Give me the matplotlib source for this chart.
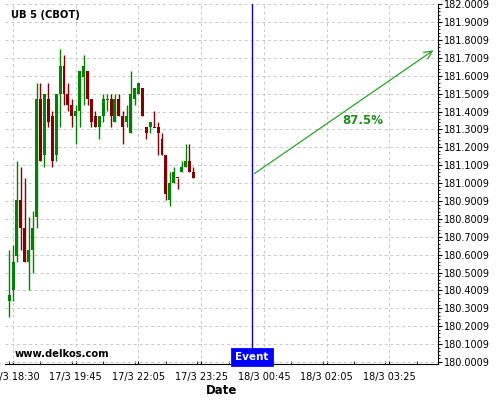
import numpy as np
import matplotlib
matplotlib.use("Agg")
import matplotlib.pyplot as plt
from matplotlib.ticker import MultipleLocator, FormatStrFormatter
import matplotlib.transforms as mtransforms

# 5-minute candles, prices in 1/32nds
opens = [180.34375, 180.40625, 180.59375, 180.90625, 180.75, 180.5625, 180.625, 180.8125,
         181.46875, 181.15625, 181.46875, 181.375, 181.15625, 181.5, 181.65625, 181.5,
         181.4375, 181.375, 181.40625, 181.59375, 181.625, 181.46875, 181.375, 181.3125,
         181.375, 181.46875, 181.46875, 181.34375, 181.46875, 181.375, 181.34375, 181.28125,
         181.46875, 181.5, 181.53125, 181.3125, 181.3125, 181.3125, 181.3125, 181.25,
         181.15625, 180.90625, 181.0, 181.03125, 181.0625, 181.09375, 181.125, 181.0625]
closes = [180.375, 180.5625, 180.90625, 180.75, 180.5625, 180.625, 180.75, 181.46875,
          181.125, 181.5, 181.34375, 181.125, 181.5, 181.65625, 181.5, 181.4375,
          181.375, 181.40625, 181.625, 181.65625, 181.46875, 181.34375, 181.3125, 181.375,
          181.46875, 181.46875, 181.375, 181.46875, 181.375, 181.3125, 181.375, 181.5,
          181.53125, 181.5625, 181.375, 181.28125, 181.34375, 181.3125, 181.28125, 181.15625,
          180.9375, 181.0, 181.0625, 181.03125, 181.09375, 181.125, 181.0625, 181.03125]
highs = [180.625, 180.65625, 181.125, 181.09375, 181.03125, 180.8125, 180.84375, 181.5625,
         181.5625, 181.5, 181.5625, 181.40625, 181.5, 181.75, 181.71875, 181.5625,
         181.46875, 181.4375, 181.625, 181.71875, 181.625, 181.46875, 181.40625, 181.375,
         181.5, 181.5, 181.5, 181.5, 181.5, 181.40625, 181.4375, 181.625,
         181.53125, 181.5625, 181.53125, 181.3125, 181.34375, 181.40625, 181.34375, 181.28125,
         181.15625, 181.0625, 181.09375, 181.03125, 181.125, 181.21875, 181.21875, 181.09375]
lows = [180.25, 180.34375, 180.5625, 180.625, 180.5625, 180.40625, 180.5, 180.75,
        181.125, 181.09375, 181.3125, 181.09375, 181.125, 181.3125, 181.4375, 181.40625,
        181.3125, 181.21875, 181.3125, 181.4375, 181.4375, 181.3125, 181.3125, 181.25,
        181.34375, 181.40625, 181.3125, 181.34375, 181.375, 181.21875, 181.3125, 181.28125,
        181.4375, 181.5, 181.375, 181.25, 181.28125, 181.3125, 181.15625, 181.15625,
        180.90625, 180.875, 181.0, 180.96875, 181.0625, 181.09375, 181.0625, 181.03125]
# doji candles that were drawn green
green_doji = [25]

tick_pos = [1, 17, 33, 49, 65, 81, 97]
tick_labels = ["17/3 18:30", "17/3 19:45", "17/3 22:05", "17/3 23:25",
               "18/3 00:45", "18/3 02:05", "18/3 03:25"]

event_x = 62
arrow_start = (62, 181.0456)
arrow_end = (108.8, 181.752)
prob_label = "87.5%"

fig = plt.figure(figsize=(5, 4), dpi=100)
ax = fig.add_axes([0.01, 0.09, 0.866, 0.90])

green = "#008000"
red = "#800000"
idx = np.arange(len(opens))
for i in idx:
    o, c, h, l = opens[i], closes[i], highs[i], lows[i]
    up = c > o or (c == o and i in green_doji)
    col = green if up else red
    ax.vlines(i, l, h, color=col, lw=1.0, zorder=3)
    bottom = min(o, c)
    height = max(abs(c - o), 0.006)
    if c == o:
        bottom -= 0.003
    ax.bar(i, height, bottom=bottom, width=0.75, color=col, edgecolor=col,
           lw=0, zorder=4)

ax.set_xlim(-1.05, 109.4)
ax.set_ylim(179.99, 182.002)

ax.set_xticks(tick_pos)
ax.set_xticklabels(tick_labels, fontsize=7)
ax.xaxis.set_minor_locator(MultipleLocator(8))
ax.tick_params(axis="x", which="both", direction="in", length=2, pad=6)

ax.yaxis.tick_right()
ax.yaxis.set_major_locator(MultipleLocator(0.1, offset=0.0009))
ax.yaxis.set_minor_locator(MultipleLocator(0.02, offset=0.0009))
ax.yaxis.set_major_formatter(FormatStrFormatter("%.4f"))
ax.tick_params(axis="y", which="major", labelsize=7, length=3, pad=1)
ax.tick_params(axis="y", which="minor", length=1.5)

ax.grid(True, which="major", color="#c8c8c8", linestyle=(0, (3, 3)), lw=0.7)
ax.set_axisbelow(True)

for s in ["top", "left"]:
    ax.spines[s].set_visible(False)

ax.set_xlabel("Date", fontsize=8.5, fontweight="bold", labelpad=1)

# event marker
ax.axvline(event_x, color="#0000cc", lw=1.0, zorder=2)
trans = mtransforms.blended_transform_factory(ax.transData, ax.transAxes)
ax.text(event_x, 0.006, "Event", transform=trans, ha="center", va="bottom",
        fontsize=7.5, fontweight="bold", color="white", zorder=6,
        bbox=dict(boxstyle="square,pad=0.3", fc="#0000ff", ec="#0000ff", lw=2))

ax.annotate("", xy=arrow_end, xytext=arrow_start,
            arrowprops=dict(arrowstyle="->", color="#2ca02c", lw=0.9,
                            mutation_scale=14))
ax.text(90.3, 181.353, prob_label, color="#228B22", fontsize=8.5,
        fontweight="bold", ha="center", va="center")

ax.text(0.013, 0.969, "UB 5 (CBOT)", transform=ax.transAxes, fontsize=7.2,
        fontweight="bold", va="center", ha="left")
ax.text(0.023, 0.029, "www.delkos.com", transform=ax.transAxes, fontsize=7.2,
        fontweight="bold", va="center", ha="left")

plt.savefig("out.png", dpi=100)
